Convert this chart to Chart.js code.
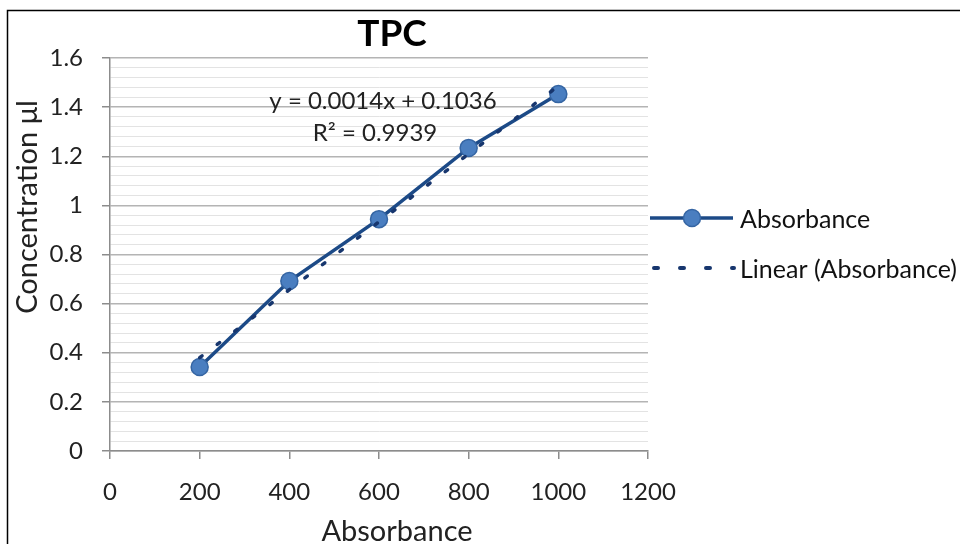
<!DOCTYPE html>
<html><head><meta charset="utf-8">
<script src="https://cdn.jsdelivr.net/npm/chart.js@4/dist/chart.umd.min.js"></script>
<style>html,body{margin:0;padding:0;background:#fff}#wrap{width:960px;height:544px}</style>
</head><body><div id="wrap"><canvas id="c" width="960" height="544"></canvas></div>
<script>
const xValues = [200, 400, 600, 800, 1000];
const absorbance = [0.342, 0.692, 0.944, 1.234, 1.453];
const trendX = [200, 1000];
const trendY = [0.38, 1.486];
const xTicks = [0, 200, 400, 600, 800, 1000, 1200];
const yMajorLabels = ['0', '0.2', '0.4', '0.6', '0.8', '1', '1.2', '1.4', '1.6'];
const chartTitle = 'TPC';
const xTitle = 'Absorbance';
const yTitle = 'Concentration μl';
const seriesName = 'Absorbance';
const trendName = 'Linear (Absorbance)';
const equationText = 'y = 0.0014x + 0.1036';
const r2Text = 'R² = 0.9939';

const FONT = 'Lato, "Open Sans", sans-serif';
const isMajor = v => Math.abs(Math.round(v * 100) % 20) === 0;

const extras = {
  id: 'extras',
  beforeDraw(chart) {
    const ctx = chart.ctx;
    ctx.save();
    ctx.fillStyle = '#fff';
    ctx.fillRect(0, 0, chart.width, chart.height);
    ctx.strokeStyle = '#000';
    ctx.lineWidth = 1.5;
    ctx.strokeRect(7.5, 10.5, 1000, 1000);
    ctx.restore();
  },
  afterDraw(chart) {
    const ctx = chart.ctx;
    const a = chart.chartArea;
    ctx.save();
    ctx.textAlign = 'center';
    ctx.textBaseline = 'middle';
    ctx.fillStyle = '#000';
    ctx.font = 'bold 37px ' + FONT;
    ctx.fillText(chartTitle, a.left + 282, 34);
    ctx.fillStyle = '#222';
    ctx.font = '24px ' + FONT;
    ctx.fillText(equationText, a.left + 273, 101);
    ctx.fillText(r2Text, a.left + 265, 133);
    // axis titles
    ctx.font = '29px ' + FONT;
    ctx.fillText(xTitle, a.left + 287, 532);
    ctx.save();
    ctx.translate(28, 207);
    ctx.rotate(-Math.PI / 2);
    ctx.fillText(yTitle, 0, 0);
    ctx.restore();
    // legend
    const lx = 650;
    ctx.strokeStyle = '#1c4a87';
    ctx.lineWidth = 3.5;
    ctx.beginPath(); ctx.moveTo(lx, 218); ctx.lineTo(lx + 83, 218); ctx.stroke();
    ctx.beginPath(); ctx.arc(lx + 42, 218, 8.5, 0, Math.PI * 2);
    ctx.fillStyle = '#4a7ec0'; ctx.fill();
    ctx.strokeStyle = '#3565a3'; ctx.lineWidth = 1.5; ctx.stroke();
    ctx.strokeStyle = '#17366e'; ctx.lineWidth = 4; ctx.lineCap = 'round';
    ctx.setLineDash([4, 22]);
    ctx.beginPath(); ctx.moveTo(lx + 4, 268); ctx.lineTo(lx + 84, 268); ctx.stroke();
    ctx.setLineDash([]);
    ctx.fillStyle = '#111';
    ctx.textAlign = 'left';
    ctx.font = '25px ' + FONT;
    ctx.fillText(seriesName, lx + 90, 220);
    ctx.fillText(trendName, lx + 90, 270);
    ctx.restore();
  }
};

new Chart(document.getElementById('c'), {
  type: 'scatter',
  data: {
    datasets: [
      {
        label: trendName,
        data: trendX.map((x, i) => ({x, y: trendY[i]})),
        showLine: true,
        borderColor: '#17366e',
        borderWidth: 3.5,
        borderDash: [3, 19],
        borderCapStyle: 'round',
        pointRadius: 0,
        order: 1
      },
      {
        label: seriesName,
        data: xValues.map((x, i) => ({x, y: absorbance[i]})),
        showLine: true,
        borderColor: '#1c4a87',
        borderWidth: 3.5,
        pointRadius: 8.5,
        pointBackgroundColor: '#4a7ec0',
        pointBorderColor: '#3565a3',
        pointBorderWidth: 1.5,
        order: 2
      }
    ]
  },
  options: {
    responsive: false,
    animation: false,
    layout: {padding: {top: 58, right: 312, left: 0, bottom: 0}},
    plugins: {legend: {display: false}, title: {display: false}, tooltip: {enabled: false}},
    scales: {
      x: {
        type: 'linear', min: 0, max: 1200,
        afterBuildTicks: s => { s.ticks = xTicks.map(v => ({value: v})); },
        afterFit: s => { s.height = 93; },
        border: {color: '#8c8c8c', width: 1.5},
        grid: {drawOnChartArea: false, tickLength: 8, color: '#8c8c8c', lineWidth: 1.5},
        ticks: {color: '#222', font: {family: FONT, size: 24}, padding: 19, maxRotation: 0,
          callback: v => String(v)}
      },
      y: {
        type: 'linear', min: 0, max: 1.6,
        afterBuildTicks: s => {
          const t = [];
          for (let i = 0; i <= 40; i++) t.push({value: i * 0.04});
          s.ticks = t;
        },
        afterFit: s => { s.width = 110; },
        border: {color: '#8c8c8c', width: 1.5},
        grid: {
          tickLength: 8,
          color: c => isMajor(c.tick.value) ? '#b4b4b4' : '#e3e3e3',
          tickColor: c => isMajor(c.tick.value) ? '#8c8c8c' : 'rgba(0,0,0,0)',
          lineWidth: c => isMajor(c.tick.value) ? 1.5 : 1
        },
        ticks: {
          autoSkip: false,
          color: '#222', font: {family: FONT, size: 24}, padding: 19,
          callback: v => isMajor(v) ? yMajorLabels[Math.round(v / 0.2)] : ''
        }
      }
    }
  },
  plugins: [extras]
});
</script>
</body></html>
